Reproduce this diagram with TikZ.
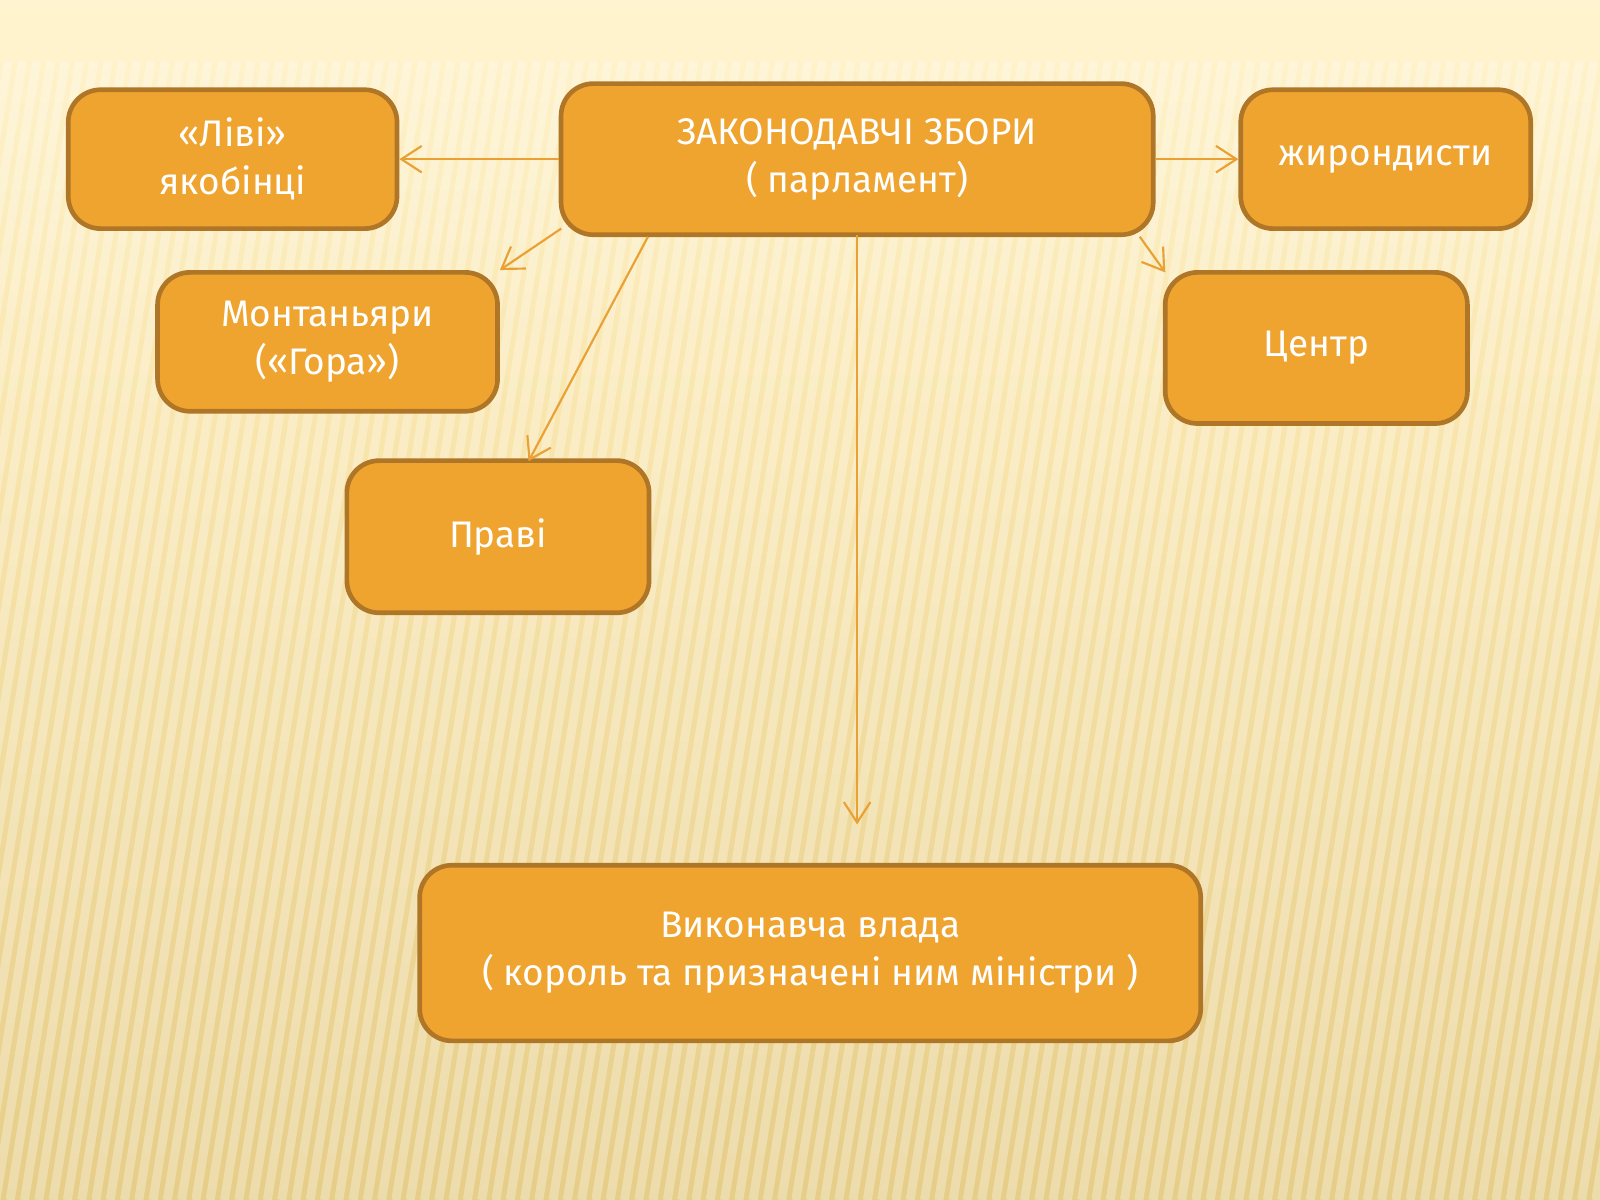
\documentclass[tikz,border=0pt]{standalone}
\usepackage{fontspec}
\setmainfont{Fira Sans}
\usetikzlibrary{arrows.meta}
\definecolor{boxfill}{HTML}{EFA42F}
\definecolor{boxdraw}{HTML}{B07628}
\definecolor{arr}{HTML}{E9A136}
\definecolor{bgtop}{HTML}{FFF4CF}
\definecolor{bgmid}{HTML}{F9E6AE}
\definecolor{bgbot}{HTML}{E6CD88}
\tikzset{
  bx/.style={draw=boxdraw,line width=1.3pt,fill=boxfill,rounded corners=9pt,text=white,align=center,font=\fontsize{10.3}{13.4}\selectfont},
  ar/.style={draw=arr,line width=0.6pt,-{Straight Barb[length=2mm,width=2.6mm]}}
}
\begin{document}
\begin{tikzpicture}[x=0.01cm,y=-0.01cm]
\useasboundingbox (0,0) rectangle (1568,1176);
\shade[top color=bgtop,bottom color=bgmid] (0,0) rectangle (1568,400);
\shade[top color=bgmid,bottom color=bgbot] (0,400) rectangle (1568,1176);
\foreach \i in {0,...,130}{
  \draw[white,opacity=0.3,line width=2.5pt] ({\i*14-200},1176) -- ({\i*14-20},60);
}
\fill[bgtop,opacity=0.6] (0,0) rectangle (1568,60);
\node[bx,minimum width=3.22cm,minimum height=1.36cm] (l) at (228,156) {\raisebox{-2pt}{\shortstack{}}«Ліві»\\якобінці};
\node[bx,minimum width=5.8cm,minimum height=1.48cm] (z) at (840,156) {ЗАКОНОДАВЧІ ЗБОРИ\\( парламент)};
\node[bx,minimum width=2.84cm,minimum height=1.36cm] (g) at (1358,156) {жирондисти};
\node[bx,minimum width=3.33cm,minimum height=1.36cm] (m) at (321,335) {Монтаньяри\\(«Гора»)};
\node[bx,minimum width=2.96cm,minimum height=1.48cm] (c) at (1290,341) {Центр};
\node[bx,minimum width=2.96cm,minimum height=1.49cm] (p) at (488,526) {Праві};
\node[bx,minimum width=7.65cm,minimum height=1.72cm] (v) at (794,934) {Виконавча влада\\( король та призначені ним міністри )};
\coordinate (ve) at (840,808);
\draw[ar] (z.west) -- (l.east);
\draw[ar] (z.east) -- (g.west);
\draw[ar] (550,224) -- (m.north east);
\draw[ar] (635,232) -- (518,452);
\draw[ar] (1117,232) -- (1142,267);
\draw[ar] (840,230) -- (ve);
\end{tikzpicture}
\end{document}
